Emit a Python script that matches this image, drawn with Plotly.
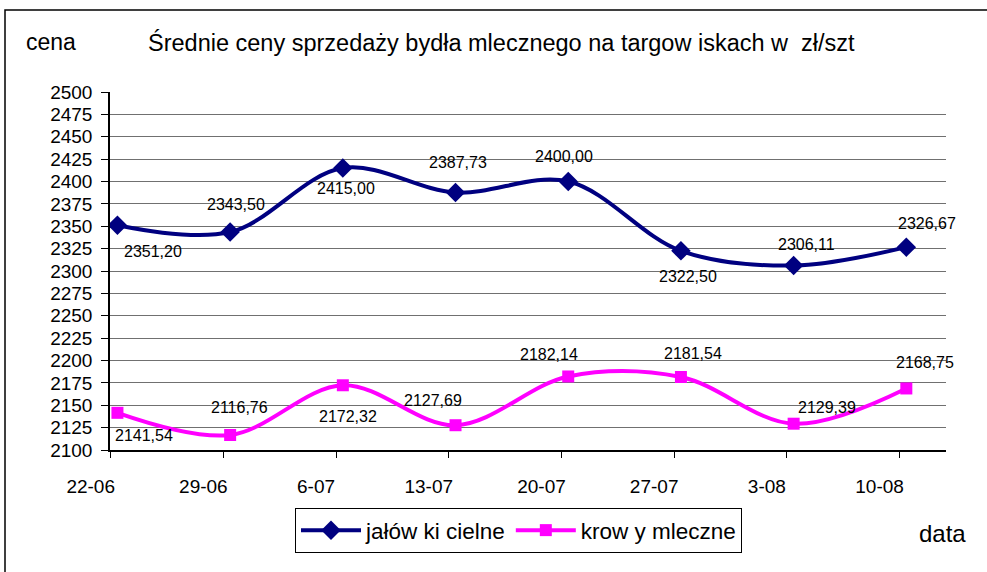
import plotly.graph_objects as go

# ---- data ----
dates = ["22-06", "29-06", "6-07", "13-07", "20-07", "27-07", "3-08", "10-08"]
jalowki = [2351.20, 2343.50, 2415.00, 2387.73, 2400.00, 2322.50, 2306.11, 2326.67]
krowy = [2141.54, 2116.76, 2172.32, 2127.69, 2182.14, 2181.54, 2129.39, 2168.75]
series_names = ["jałów ki cielne", "krow y mleczne"]
y_ticks = list(range(2100, 2501, 25))

# label offsets in px (style)
jal_dx = [36, 6, 3, 2, -4, 7, 13, 21]
jal_dy = [-26, 28, -20, 30, 25, -26, 21, 24]
kro_dx = [27, 9, 5, -23, -19, 12, 33, 19]
kro_dy = [-23, 28, -31, 25, 22, 24, 16, 26]

xs = list(range(len(dates)))
FONT = "Liberation Sans, Arial, sans-serif"

fig = go.Figure()
fig.add_trace(go.Scatter(
    x=xs, y=jalowki, name=series_names[0], mode="lines+markers",
    line=dict(color="#000080", width=4, shape="spline", smoothing=1),
    marker=dict(symbol="diamond", size=15, color="#000080"),
))
fig.add_trace(go.Scatter(
    x=xs, y=krowy, name=series_names[1], mode="lines+markers",
    line=dict(color="#FF00FF", width=4, shape="spline", smoothing=1),
    marker=dict(symbol="square", size=12, color="#FF00FF"),
))

def fmt(v):
    return f"{v:.2f}".replace(".", ",")

annotations = []
for vals, dxs, dys in [(jalowki, jal_dx, jal_dy), (krowy, kro_dx, kro_dy)]:
    for i, v in enumerate(vals):
        annotations.append(dict(
            x=xs[i], y=v, xref="x", yref="y", text=fmt(v), showarrow=False,
            xshift=dxs[i], yshift=dys[i], font=dict(family=FONT, size=16, color="black"),
        ))

L, R, T, B = 110, 41, 92, 122
W, H = 987, 572
pw, ph = W - L - R, H - T - B

def px2paper_x(px):
    return (px - L) / pw

def px2paper_y(py):
    return (H - B - py) / ph

# axis titles
annotations.append(dict(x=px2paper_x(24), y=px2paper_y(42), xref="paper", yref="paper", text="cena",
                        showarrow=False, xanchor="left", yanchor="middle",
                        font=dict(family=FONT, size=23, color="black")))
annotations.append(dict(x=px2paper_x(942), y=px2paper_y(533), xref="paper", yref="paper", text="data",
                        showarrow=False, xanchor="center", yanchor="middle",
                        font=dict(family=FONT, size=24, color="black")))

fig.update_layout(
    width=W, height=H,
    margin=dict(l=L, r=R, t=T, b=B),
    paper_bgcolor="white", plot_bgcolor="white",
    font=dict(family=FONT, color="black"),
    title=dict(text="Średnie ceny sprzedaży bydła mlecznego na targow iskach w  zł/szt",
               x=148 / W, xanchor="left", xref="container",
               y=1 - 43 / H, yanchor="middle", yref="container",
               font=dict(family=FONT, size=23.5, color="black")),
    showlegend=True,
    legend=dict(orientation="h", x=px2paper_x(295), y=px2paper_y(508),
                xanchor="left", yanchor="top",
                bordercolor="black", borderwidth=1, bgcolor="white",
                font=dict(family=FONT, size=22.5, color="black"),
                itemwidth=60),
    annotations=annotations,
    shapes=[dict(type="rect", xref="paper", yref="paper",
                 x0=px2paper_x(5), x1=px2paper_x(995),
                 y0=px2paper_y(580), y1=px2paper_y(10),
                 line=dict(color="black", width=1.5), layer="below")],
)

fig.update_xaxes(
    range=[-0.066, 7.352], showgrid=False, zeroline=False,
    tickmode="array", tickvals=[x - 0.06 for x in xs], ticktext=dates,
    ticks="outside", ticklen=6, tickcolor="black", tickwidth=1,
    ticklabelshift=-20, ticklabelstandoff=12,
    tickfont=dict(family=FONT, size=19, color="black"),
    showline=True, linecolor="black", linewidth=1.5,
)
fig.update_yaxes(
    range=[2100, 2500], tickmode="array", tickvals=y_ticks,
    ticktext=[str(v) for v in y_ticks],
    showgrid=True, gridcolor="#707070", gridwidth=1.3, zeroline=False,
    ticks="outside", ticklen=7, tickcolor="black", tickwidth=1,
    ticklabelstandoff=5,
    tickfont=dict(family=FONT, size=19, color="black"),
    showline=True, linecolor="black", linewidth=1.5,
)

fig.write_html("out.html", config={"displayModeBar": False},
               post_script="document.body.style.margin='0';")
